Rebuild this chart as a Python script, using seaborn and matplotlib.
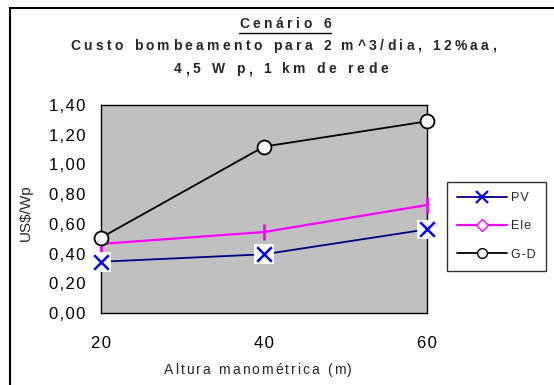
import numpy as np
import pandas as pd
import matplotlib
matplotlib.use('Agg')
import matplotlib.pyplot as plt
from matplotlib.lines import Line2D
from matplotlib.patches import Rectangle
import seaborn as sns

# dados
altura = [20, 40, 60]
pv = [0.345, 0.395, 0.563]
ele = [0.465, 0.545, 0.727]
gd = [0.507, 1.12, 1.29]
yticks = [0.0, 0.2, 0.4, 0.6, 0.8, 1.0, 1.2, 1.4]
ytick_labels = ['0,00', '0,20', '0,40', '0,60', '0,80', '1,00', '1,20', '1,40']
series = ['PV', 'Ele', 'G-D']

W, H = 554, 385

sns.set_theme(style='white')
plt.rcParams['font.family'] = ['Liberation Sans', 'DejaVu Sans']

fig = plt.figure(figsize=(W/100, H/100), dpi=100)
ax = fig.add_axes([101/W, 1-313/H, (427-101)/W, (313-105)/H])
ax.set_facecolor('#C0C0C0')


def texto_espacado(xc, y, s, esp, **kw):
    # texto com espacamento entre letras (estilo excel), xc e y em pixels
    r = fig.canvas.get_renderer()
    def larg(txt):
        t = fig.text(0, 0, txt, **kw)
        w = t.get_window_extent(r).width
        t.remove()
        return w
    w_esp = larg('a a') - larg('aa')
    ws = [w_esp if c == ' ' else larg(c) for c in s]
    total = sum(ws) + esp*(len(s)-1)
    x = xc - total/2
    for c, w in zip(s, ws):
        if c != ' ':
            fig.text(x/W, 1-y/H, c, ha='left', va='center', **kw)
        x += w + esp
    return xc - total/2, xc + total/2


sns.lineplot(x=altura, y=gd, ax=ax, color='black', lw=1.3, marker='o', markersize=10,
             markerfacecolor='white', markeredgecolor='black', markeredgewidth=1.3, clip_on=False, zorder=5)
sns.lineplot(x=altura, y=ele, ax=ax, color='#FF00FF', lw=1.6, marker='|', markersize=11,
             markeredgewidth=2, markeredgecolor='#FF00FF', clip_on=False, zorder=4)
sns.lineplot(x=altura, y=pv, ax=ax, color='#000080', lw=1.3, clip_on=False, zorder=3)
# fundo branco dos marcadores x
sns.scatterplot(x=altura, y=pv, ax=ax, marker='s', s=200, color='white', edgecolor='none',
                clip_on=False, zorder=6)
sns.scatterplot(x=altura, y=pv, ax=ax, marker='x', s=110, color='#0000FF', linewidth=1.8,
                clip_on=False, zorder=7)

ax.set_xlim(20, 60)
ax.set_ylim(0, 1.4)
ax.set_xticks(altura)
ax.set_xticklabels(['\u200a'.join(str(a)) for a in altura], fontsize=12)
ax.set_yticks(yticks)
ax.set_yticklabels(['\u200a'.join(t) for t in ytick_labels], fontsize=12)
ax.tick_params(direction='inout', length=9, width=1, colors='black')
ax.tick_params(axis='x', pad=12)
ax.tick_params(axis='y', pad=7)
for s in ax.spines.values():
    s.set_color('black')
    s.set_linewidth(1)

ax.set_ylabel('US$/Wp', fontsize=11)
ax.yaxis.set_label_coords((33-101)/326, 0.48)

# eixo x (titulo)
texto_espacado(258, 370, 'Altura manom\u00e9trica (m)', 2.0, fontsize=10)

# titulo
x0, x1 = texto_espacado(285, 24, 'Cen\u00e1rio 6', 3.6, fontsize=10, fontweight='bold')
fig.add_artist(Line2D([x0/W, x1/W], [1-33/H, 1-33/H], color='black', lw=1))
texto_espacado(283, 46, 'Custo bombeamento para 2 m^3/dia, 12%aa,', 3.4, fontsize=10, fontweight='bold')
texto_espacado(281, 69, '4,5 W p, 1 km de rede', 3.6, fontsize=10, fontweight='bold')

# legenda
handles = [
    Line2D([], [], color='#000080', lw=1.3, marker='x', markersize=8, markeredgecolor='#0000FF', markeredgewidth=1.6),
    Line2D([], [], color='#FF00FF', lw=1.6, marker='D', markersize=6, markerfacecolor='white', markeredgecolor='#FF00FF'),
    Line2D([], [], color='black', lw=1.3, marker='o', markersize=7, markerfacecolor='white', markeredgecolor='black'),
]
rotulos = ['\u200a'.join(s) for s in series]
leg = fig.legend(handles, rotulos, loc='upper left', bbox_to_anchor=(447/W, 1-182/H),
                 fontsize=9, frameon=True, fancybox=False, edgecolor='black', handlelength=4,
                 handletextpad=0.35, labelspacing=1.3, borderpad=0.8, borderaxespad=0)
leg.get_frame().set_linewidth(1)

# moldura externa
fig.add_artist(Rectangle((10/W, -0.1), 1.0, 1-8/H+0.1, transform=fig.transFigure,
                         fill=False, edgecolor='black', lw=1.5))

plt.savefig('out.png', dpi=100)
